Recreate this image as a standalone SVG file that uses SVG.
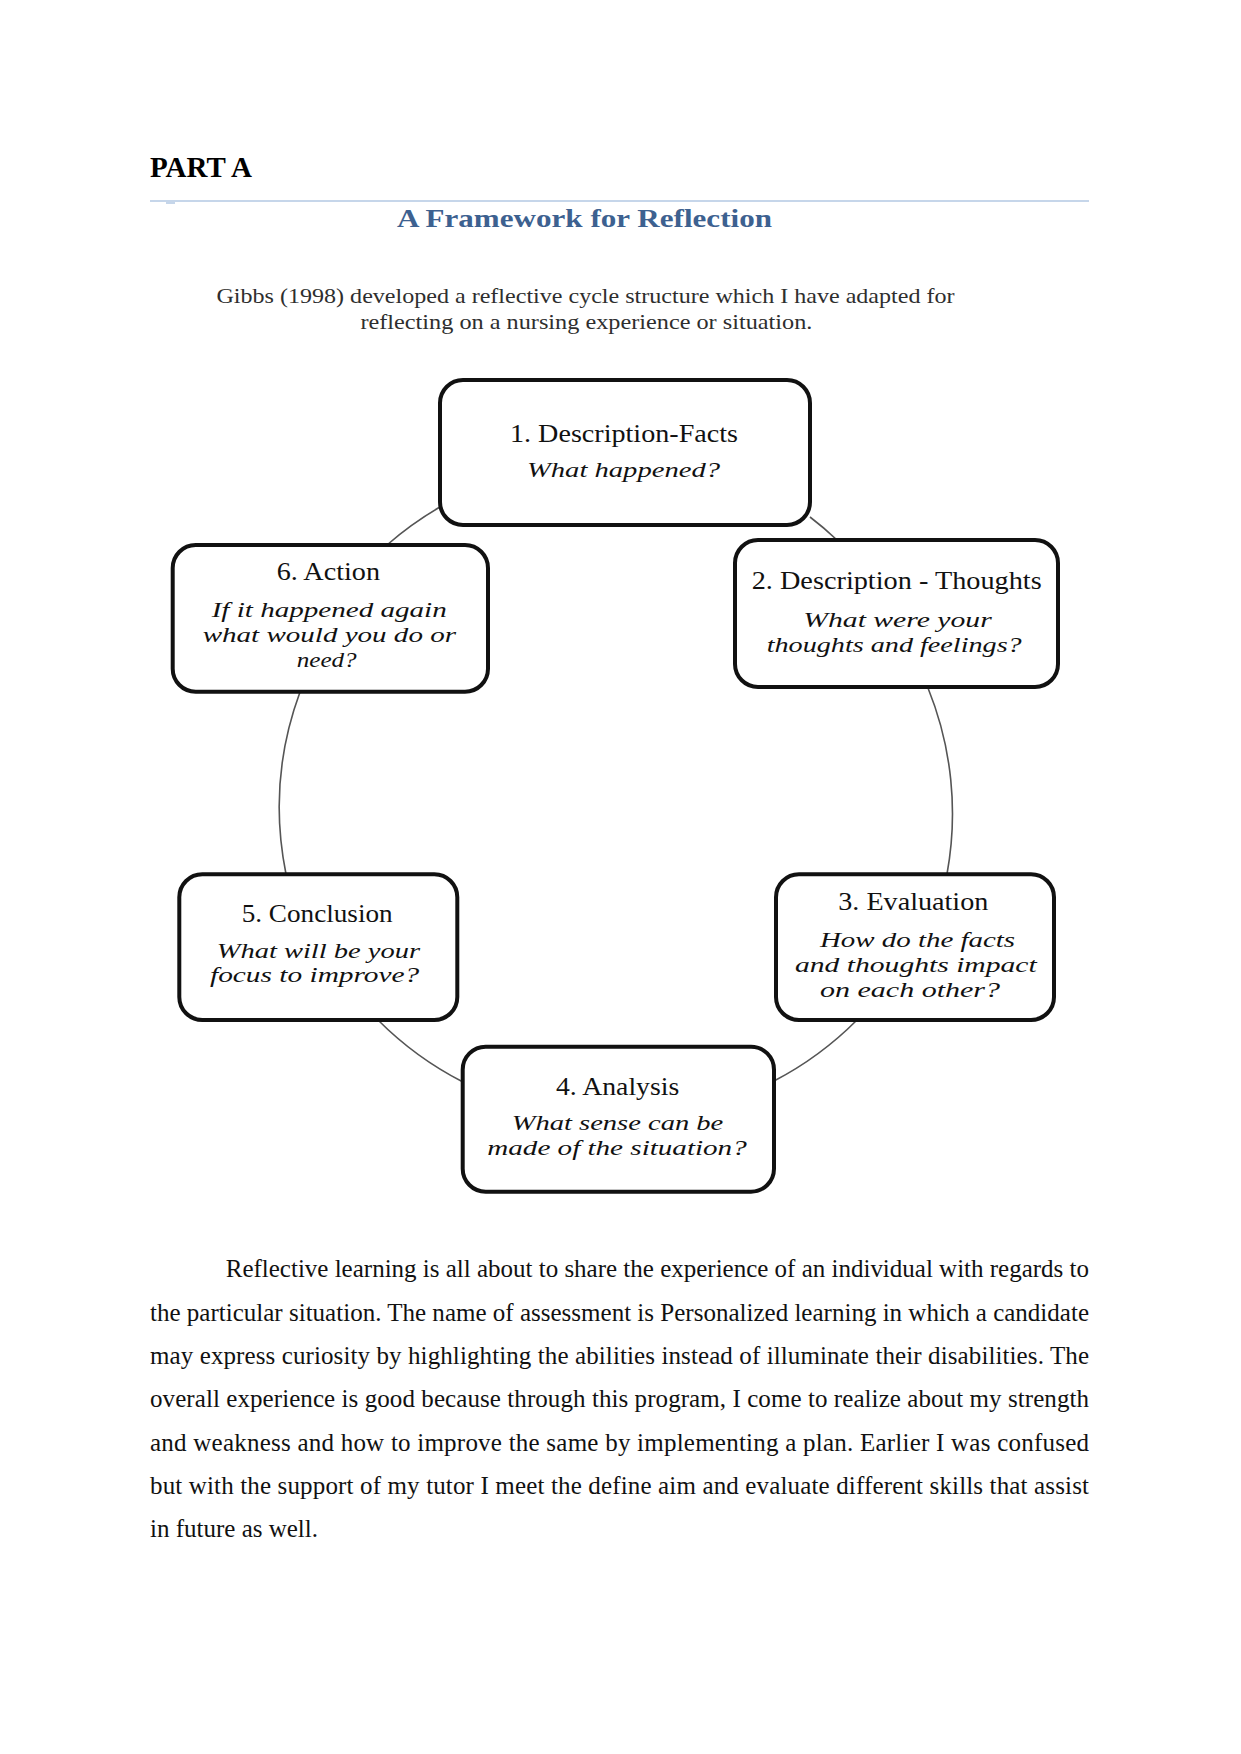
<svg xmlns="http://www.w3.org/2000/svg" width="1241" height="1754" viewBox="0 0 1241 1754">
<style>
.box{fill:#ffffff;stroke:#111111;stroke-width:4}
.conn{fill:none;stroke:#555555;stroke-width:1.6}
.hd{font-family:"Liberation Serif","Times New Roman",serif;font-size:26px;fill:#111111}
.it{font-family:"Liberation Serif","Times New Roman",serif;font-size:22px;font-style:italic;fill:#111111}
.body{font-family:"Liberation Serif","Times New Roman",serif;font-size:25px;fill:#111111}
.gibbs{font-family:"Liberation Serif","Times New Roman",serif;font-size:22px;fill:#2e2e2e}
</style>
<rect width="1241" height="1754" fill="#ffffff"/>
<text x="150" y="177" font-family="Liberation Serif, Times New Roman, serif" font-size="29" font-weight="bold" fill="#000000">PART A</text>
<line x1="150" y1="201" x2="1089" y2="201" stroke="#c6d6ea" stroke-width="2"/>
<rect x="166" y="201" width="9" height="3" fill="#c6d6ea"/>
<text x="397" y="227" font-family="Liberation Serif, Times New Roman, serif" font-size="25" font-weight="bold" fill="#3d6190" textLength="375" lengthAdjust="spacingAndGlyphs">A Framework for Reflection</text>
<text class="gibbs" x="216.5" y="303" textLength="738" lengthAdjust="spacingAndGlyphs">Gibbs (1998) developed a reflective cycle structure which I have adapted for</text>
<text class="gibbs" x="360.4" y="328.5" textLength="452" lengthAdjust="spacingAndGlyphs">reflecting on a nursing experience or situation.</text>
<g id="connectors">
<path class="conn" d="M387,545 A335,335 0 0 1 440,507"/>
<path class="conn" d="M810,517 A335,335 0 0 1 837,540"/>
<path class="conn" d="M928,688 A335,335 0 0 1 947,874"/>
<path class="conn" d="M857,1020 A335,335 0 0 1 774,1081"/>
<path class="conn" d="M463,1082 A335,335 0 0 1 378,1020"/>
<path class="conn" d="M286,874 A335,335 0 0 1 300,692"/>
</g>
<g id="node1">
<rect class="box" x="440" y="380" width="370" height="145" rx="23"/>
<text class="hd" x="510" y="441.5" textLength="228" lengthAdjust="spacingAndGlyphs">1. Description-Facts</text>
<text class="it" x="527" y="476.5" textLength="193" lengthAdjust="spacingAndGlyphs">What happened?</text>
</g>
<g id="node2">
<rect class="box" x="735" y="540" width="323" height="147" rx="23"/>
<text class="hd" x="751.7" y="589.3" textLength="290" lengthAdjust="spacingAndGlyphs">2. Description - Thoughts</text>
<text class="it" x="803.3" y="626.7" textLength="188.4" lengthAdjust="spacingAndGlyphs">What were your</text>
<text class="it" x="766.7" y="651.7" textLength="255" lengthAdjust="spacingAndGlyphs">thoughts and feelings?</text>
</g>
<g id="node3">
<rect class="box" x="776" y="874.3" width="278" height="145.7" rx="23"/>
<text class="hd" x="838.3" y="910" textLength="150" lengthAdjust="spacingAndGlyphs">3. Evaluation</text>
<text class="it" x="820" y="946.7" textLength="195" lengthAdjust="spacingAndGlyphs">How do the facts</text>
<text class="it" x="795" y="972.3" textLength="241.7" lengthAdjust="spacingAndGlyphs">and thoughts impact</text>
<text class="it" x="820" y="996.7" textLength="180" lengthAdjust="spacingAndGlyphs">on each other?</text>
</g>
<g id="node4">
<rect class="box" x="462.7" y="1046.7" width="311.3" height="145" rx="23"/>
<text class="hd" x="556" y="1095" textLength="123.3" lengthAdjust="spacingAndGlyphs">4. Analysis</text>
<text class="it" x="511.7" y="1130" textLength="211.6" lengthAdjust="spacingAndGlyphs">What sense can be</text>
<text class="it" x="487.3" y="1155" textLength="259.4" lengthAdjust="spacingAndGlyphs">made of the situation?</text>
</g>
<g id="node5">
<rect class="box" x="179.3" y="874.3" width="278" height="145.7" rx="23"/>
<text class="hd" x="241.7" y="921.7" textLength="151" lengthAdjust="spacingAndGlyphs">5. Conclusion</text>
<text class="it" x="216.7" y="957.7" textLength="203.3" lengthAdjust="spacingAndGlyphs">What will be your</text>
<text class="it" x="210" y="982.3" textLength="209.3" lengthAdjust="spacingAndGlyphs">focus to improve?</text>
</g>
<g id="node6">
<rect class="box" x="172.7" y="545" width="315.3" height="146.7" rx="23"/>
<text class="hd" x="276.7" y="580" textLength="103.3" lengthAdjust="spacingAndGlyphs">6. Action</text>
<text class="it" x="211.7" y="617.3" textLength="235" lengthAdjust="spacingAndGlyphs">If it happened again</text>
<text class="it" x="202.7" y="641.7" textLength="253.3" lengthAdjust="spacingAndGlyphs">what would you do or</text>
<text class="it" x="296.7" y="667.3" textLength="60" lengthAdjust="spacingAndGlyphs">need?</text>
</g>
<g id="paragraph">
<text class="body" x="225.7" y="1277.3" textLength="863.3" lengthAdjust="spacing">Reflective learning is all about to share the experience of an individual with regards to</text>
<text class="body" x="150" y="1320.6" textLength="939" lengthAdjust="spacing">the particular situation. The name of assessment is Personalized learning in which a candidate</text>
<text class="body" x="150" y="1363.9" textLength="939" lengthAdjust="spacing">may express curiosity by highlighting the abilities instead of illuminate their disabilities. The</text>
<text class="body" x="150" y="1407.2" textLength="939" lengthAdjust="spacing">overall experience is good because through this program, I come to realize about my strength</text>
<text class="body" x="150" y="1450.5" textLength="939" lengthAdjust="spacing">and weakness and how to improve the same by implementing a plan. Earlier I was confused</text>
<text class="body" x="150" y="1493.8" textLength="939" lengthAdjust="spacing">but with the support of my tutor I meet the define aim and evaluate different skills that assist</text>
<text class="body" x="150" y="1537.1">in future as well.</text>
</g>
</svg>
